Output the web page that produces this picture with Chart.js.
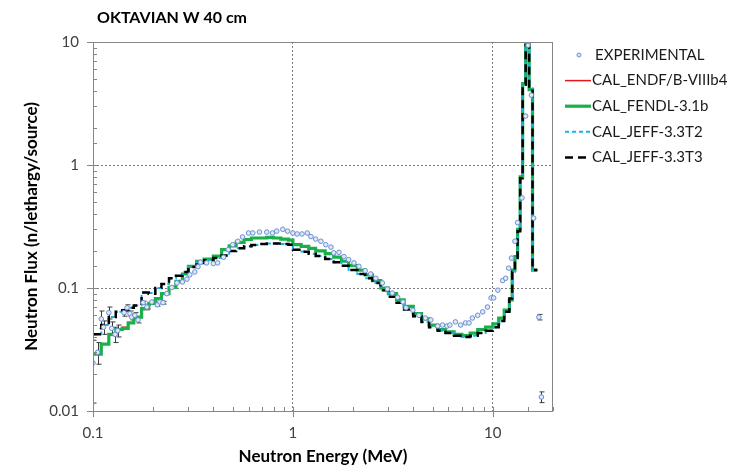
<!DOCTYPE html>
<html>
<head>
<meta charset="utf-8">
<title>OKTAVIAN W 40 cm</title>
<script src="https://cdn.jsdelivr.net/npm/chart.js@4.4.1/dist/chart.umd.min.js"></script>
<style>
    html, body { margin: 0; padding: 0; background: #fff; }
    #wrap { width: 730px; height: 467px; position: relative; }
</style>
</head>
<body>
<div id="wrap"><canvas id="fluxChart" width="730" height="467"></canvas></div>
<script>
// ========================================
// DATA
// ========================================

const chartTitle = 'OKTAVIAN W 40 cm';

// calculated spectra: group edges (MeV) and one flux value per group
const groupEdges = [
    0.1, 0.11, 0.12, 0.13, 0.14, 0.15, 0.16, 0.175, 0.19, 0.205,
    0.22, 0.24, 0.26, 0.28, 0.3, 0.33, 0.36, 0.4, 0.44, 0.48,
    0.52, 0.57, 0.62, 0.68, 0.74, 0.8, 0.87, 0.95, 1.0, 1.1,
    1.2, 1.3, 1.45, 1.6, 1.75, 1.9, 2.1, 2.3, 2.5, 2.75,
    3.0, 3.3, 3.6, 4.0, 4.4, 4.8, 5.3, 5.8, 6.4, 7.0,
    7.7, 8.4, 9.2, 10.0, 10.7, 11.4, 12.1, 12.5, 12.9, 13.3,
    13.7, 14.1, 14.6, 15.2, 15.8, 16.7
];

const endfFlux = [
    0.029, 0.035, 0.042, 0.046, 0.048, 0.052, 0.058, 0.067, 0.075, 0.082,
    0.090, 0.101, 0.113, 0.130, 0.150, 0.164, 0.172, 0.182, 0.204, 0.220,
    0.235, 0.247, 0.254, 0.255, 0.257, 0.255, 0.250, 0.244, 0.225, 0.218,
    0.210, 0.200, 0.190, 0.178, 0.165, 0.152, 0.140, 0.128, 0.115, 0.100,
    0.090, 0.080, 0.071, 0.062, 0.056, 0.050, 0.046, 0.044, 0.042, 0.041,
    0.043, 0.046, 0.048, 0.051, 0.057, 0.066, 0.080, 0.140, 0.175, 0.300,
    0.800, 4.60, 9.60, 4.10, 0.140
];

const fendlFlux = [
    0.029, 0.035, 0.042, 0.046, 0.047, 0.052, 0.058, 0.068, 0.075, 0.082,
    0.090, 0.101, 0.113, 0.130, 0.150, 0.165, 0.172, 0.182, 0.205, 0.220,
    0.235, 0.248, 0.255, 0.255, 0.258, 0.255, 0.250, 0.245, 0.225, 0.218,
    0.210, 0.200, 0.190, 0.178, 0.165, 0.152, 0.140, 0.128, 0.115, 0.100,
    0.090, 0.080, 0.071, 0.062, 0.056, 0.050, 0.046, 0.044, 0.042, 0.041,
    0.043, 0.046, 0.048, 0.051, 0.057, 0.066, 0.080, 0.140, 0.180, 0.300,
    0.800, 4.60, 9.60, 4.10, 0.140
];

const jeffT2Flux = [
    0.042, 0.050, 0.058, 0.064, 0.066, 0.069, 0.072, 0.092, 0.091, 0.100,
    0.108, 0.120, 0.126, 0.135, 0.148, 0.160, 0.168, 0.175, 0.183, 0.200,
    0.210, 0.218, 0.224, 0.228, 0.230, 0.230, 0.228, 0.225, 0.205, 0.198,
    0.190, 0.182, 0.172, 0.162, 0.152, 0.140, 0.130, 0.120, 0.110, 0.096,
    0.085, 0.076, 0.067, 0.059, 0.053, 0.048, 0.045, 0.043, 0.041, 0.040,
    0.041, 0.043, 0.045, 0.048, 0.054, 0.064, 0.082, 0.135, 0.175, 0.290,
    0.780, 4.50, 9.40, 4.20, 0.140
];

const jeffT3Flux = [
    0.042, 0.050, 0.058, 0.064, 0.066, 0.069, 0.072, 0.092, 0.090, 0.100,
    0.108, 0.120, 0.126, 0.135, 0.148, 0.160, 0.168, 0.175, 0.184, 0.200,
    0.210, 0.219, 0.224, 0.228, 0.230, 0.230, 0.228, 0.225, 0.205, 0.197,
    0.190, 0.182, 0.172, 0.162, 0.152, 0.140, 0.130, 0.120, 0.110, 0.096,
    0.085, 0.076, 0.067, 0.059, 0.053, 0.048, 0.045, 0.043, 0.041, 0.040,
    0.041, 0.043, 0.045, 0.048, 0.054, 0.064, 0.082, 0.135, 0.175, 0.290,
    0.780, 4.50, 9.40, 4.20, 0.140
];

// experiment: energy (MeV), flux, absolute uncertainty
const expEnergy = [
    0.100, 0.1055, 0.110, 0.113, 0.120, 0.124, 0.129, 0.133, 0.143, 0.148,
    0.153, 0.156, 0.162, 0.168, 0.178, 0.186, 0.197, 0.210, 0.216, 0.224,
    0.234, 0.248, 0.263, 0.280, 0.295, 0.305, 0.323, 0.335, 0.345, 0.370,
    0.400, 0.420, 0.450, 0.475, 0.500, 0.530, 0.560, 0.600, 0.630, 0.680,
    0.740, 0.790, 0.830, 0.890, 0.940, 1.00, 1.05, 1.11, 1.18, 1.23,
    1.30, 1.38, 1.46, 1.55, 1.60, 1.70, 1.80, 1.90, 2.02, 2.14,
    2.30, 2.45, 2.60, 2.80, 2.97, 3.14, 3.34, 3.55, 3.68, 3.98,
    4.27, 4.60, 4.90, 5.30, 5.60, 5.90, 6.10, 6.50, 6.90, 7.30,
    7.60, 7.90, 8.40, 8.90, 9.40, 9.80, 10.1, 10.6, 11.2, 11.6,
    12.0, 12.4, 12.9, 13.3, 14.0, 14.6, 15.0, 15.6, 16.0, 17.0,
    17.5
];

const expFlux = [
    0.0246, 0.030, 0.056, 0.048, 0.063, 0.047, 0.042, 0.045, 0.063, 0.069,
    0.062, 0.058, 0.060, 0.055, 0.076, 0.070, 0.077, 0.073, 0.077, 0.076,
    0.090, 0.101, 0.110, 0.112, 0.118, 0.128, 0.135, 0.149, 0.162, 0.160,
    0.158, 0.160, 0.178, 0.205, 0.225, 0.240, 0.260, 0.280, 0.280, 0.285,
    0.285, 0.280, 0.290, 0.300, 0.290, 0.280, 0.275, 0.275, 0.280, 0.262,
    0.250, 0.240, 0.225, 0.215, 0.193, 0.195, 0.180, 0.170, 0.160, 0.150,
    0.138, 0.130, 0.120, 0.110, 0.098, 0.091, 0.084, 0.077, 0.069, 0.066,
    0.060, 0.057, 0.055, 0.049, 0.050, 0.049, 0.050, 0.053, 0.050, 0.052,
    0.052, 0.057, 0.060, 0.064, 0.070, 0.083, 0.083, 0.096, 0.115, 0.120,
    0.145, 0.175, 0.240, 0.340, 0.540, 2.50, 9.40, 3.70, 0.370, 0.058,
    0.013
];

const expError = [
    0.013, 0.006, 0.009, 0.006, 0.007, 0.006, 0.006, 0.005, 0.004, 0.004,
    0.003, 0.003, 0.003, 0.003, 0.002, 0.002, 0.002, 0.002, 0.002, 0.002,
    0, 0, 0, 0, 0, 0, 0, 0, 0, 0,
    0, 0, 0, 0, 0, 0, 0, 0, 0, 0,
    0, 0, 0, 0, 0, 0, 0, 0, 0, 0,
    0, 0, 0, 0, 0, 0, 0, 0, 0, 0,
    0, 0, 0, 0, 0, 0, 0, 0, 0, 0,
    0, 0, 0, 0, 0, 0, 0, 0, 0, 0,
    0, 0, 0, 0, 0, 0, 0, 0, 0, 0,
    0, 0, 0, 0, 0, 0, 0, 0, 0, 0.003,
    0.0013
];

const xTickLabels = ['0.1', '1', '10'];
const yTickLabels = ['0.01', '0.1', '1', '10'];

// ========================================
// HELPERS
// ========================================

function stepData(edges, values) {
    const pts = values.map((v, i) => ({ x: edges[i], y: v }));
    pts.push({ x: edges[edges.length - 1], y: values[values.length - 1] });
    return pts;
}

function findLabel(labels, value) {
    return labels.find(l => Math.abs(Number(l) - value) < Number(l) * 1e-6);
}

const FONT = 'Lato, "Liberation Sans", sans-serif';
const AXIS_GREY = '#868686';
const TEXT_GREY = '#404040';

// ========================================
// OVERLAY PLUGIN (box, ticks, error bars, title, legend)
// ========================================

const overlayPlugin = {
    id: 'overlay',
    beforeDatasetsDraw(chart) {
        const ctx = chart.ctx;
        const xs = chart.scales.x, ys = chart.scales.y;
        const a = chart.chartArea;
        ctx.save();
        ctx.beginPath();
        ctx.rect(a.left, a.top, a.right - a.left, a.bottom - a.top);
        ctx.clip();
        ctx.strokeStyle = '#3a3a3a';
        ctx.lineWidth = 1;
        ctx.beginPath();
        expEnergy.forEach((e, i) => {
            const err = expError[i];
            if (!err) return;
            const px = Math.round(xs.getPixelForValue(e)) + 0.5;
            const lo = Math.max(expFlux[i] - err, 0.0001);
            const y1 = ys.getPixelForValue(expFlux[i] + err);
            const y2 = ys.getPixelForValue(lo);
            ctx.moveTo(px, y1); ctx.lineTo(px, y2);
            ctx.moveTo(px - 2, y1); ctx.lineTo(px + 3, y1);
            ctx.moveTo(px - 2, y2); ctx.lineTo(px + 3, y2);
        });
        ctx.stroke();
        ctx.restore();
    },
    afterDraw(chart) {
        const ctx = chart.ctx;
        const xs = chart.scales.x, ys = chart.scales.y;
        const a = chart.chartArea;

        ctx.save();
        // plot box
        ctx.strokeStyle = AXIS_GREY;
        ctx.lineWidth = 1;
        ctx.strokeRect(a.left + 0.5, a.top + 0.5, a.right - a.left - 1, a.bottom - a.top);

        // tick marks: minor inside, major crossing the axis
        ctx.beginPath();
        xs.ticks.forEach(t => {
            const px = Math.round(xs.getPixelForValue(t.value)) + 0.5;
            const major = findLabel(xTickLabels, t.value);
            ctx.moveTo(px, a.bottom - 4);
            ctx.lineTo(px, a.bottom + (major ? 6 : 0));
        });
        ys.ticks.forEach(t => {
            const py = Math.round(ys.getPixelForValue(t.value)) + 0.5;
            const major = findLabel(yTickLabels, t.value);
            ctx.moveTo(a.left + 4, py);
            ctx.lineTo(a.left - (major ? 6 : 0), py);
        });
        ctx.stroke();

        // title
        ctx.fillStyle = '#000';
        ctx.font = 'bold 16px ' + FONT;
        ctx.textAlign = 'left';
        ctx.textBaseline = 'middle';
        ctx.fillText(chartTitle, 97, 18);

        // legend
        ctx.font = '15px ' + FONT;
        chart.data.datasets.forEach((ds, i) => {
            const y = 55 + i * 25.6;
            if (ds.showLine === false) {
                ctx.beginPath();
                ctx.arc(579, y, 2, 0, Math.PI * 2);
                ctx.fillStyle = ds.backgroundColor;
                ctx.fill();
                ctx.strokeStyle = ds.borderColor;
                ctx.lineWidth = 1;
                ctx.stroke();
            } else {
                ctx.beginPath();
                ctx.setLineDash(ds.borderDash || []);
                ctx.strokeStyle = ds.borderColor;
                ctx.lineWidth = ds.borderWidth;
                ctx.moveTo(565, y);
                ctx.lineTo(591, y);
                ctx.stroke();
                ctx.setLineDash([]);
            }
            ctx.fillStyle = '#1a1a1a';
            ctx.fillText(ds.label, ds.showLine === false ? 595 : 592, y);
        });
        ctx.restore();
    }
};

// ========================================
// CHART
// ========================================

function gridColor(labels, scaleMin, scaleMax) {
    return c => {
        const v = c.tick && c.tick.value;
        if (!findLabel(labels, v)) return 'rgba(0,0,0,0)';
        if (Math.abs(v - scaleMin) < 1e-9 || Math.abs(v - scaleMax) < 1e-9) return 'rgba(0,0,0,0)';
        return '#7a7a7a';
    };
}

const ctx = document.getElementById('fluxChart').getContext('2d');

new Chart(ctx, {
    type: 'line',
    data: {
        datasets: [
            {
                label: 'EXPERIMENTAL',
                data: expEnergy.map((e, i) => ({ x: e, y: expFlux[i] })),
                showLine: false,
                pointRadius: 2.3,
                pointBorderWidth: 1,
                borderColor: '#6a8fd0',
                backgroundColor: '#dfe8f6',
                order: 0
            },
            {
                label: 'CAL_ENDF/B-VIIIb4',
                data: stepData(groupEdges, endfFlux),
                stepped: true,
                borderColor: '#e8141b',
                borderWidth: 1.5,
                pointRadius: 0,
                order: 4
            },
            {
                label: 'CAL_FENDL-3.1b',
                data: stepData(groupEdges, fendlFlux),
                stepped: true,
                borderColor: '#19b04a',
                borderWidth: 3.2,
                pointRadius: 0,
                order: 3
            },
            {
                label: 'CAL_JEFF-3.3T2',
                data: stepData(groupEdges, jeffT2Flux),
                stepped: true,
                borderColor: '#1ab2e8',
                borderWidth: 2,
                borderDash: [4, 3],
                pointRadius: 0,
                order: 2
            },
            {
                label: 'CAL_JEFF-3.3T3',
                data: stepData(groupEdges, jeffT3Flux),
                stepped: true,
                borderColor: '#000000',
                borderWidth: 2.5,
                borderDash: [8, 5],
                pointRadius: 0,
                order: 1
            }
        ]
    },
    options: {
        responsive: false,
        animation: false,
        layout: { padding: { left: 0, right: 177, top: 42, bottom: 0 } },
        plugins: {
            legend: { display: false },
            title: { display: false },
            tooltip: { enabled: false }
        },
        scales: {
            x: {
                type: 'logarithmic',
                min: 0.1,
                max: 20,
                afterFit: s => { s.height = 56; },
                grid: { drawTicks: false, color: gridColor(xTickLabels, 0.1, 20), lineWidth: 1 },
                border: { display: false, dash: [2, 2] },
                ticks: {
                    autoSkip: false,
                    maxRotation: 0,
                    padding: 13,
                    color: TEXT_GREY,
                    font: { family: FONT, size: 15 },
                    callback: v => findLabel(xTickLabels, v) || ''
                },
                title: {
                    display: true,
                    text: 'Neutron Energy (MeV)',
                    color: '#000',
                    font: { family: FONT, size: 17, weight: 'bold' },
                    padding: { top: 0, bottom: 0 }
                }
            },
            y: {
                type: 'logarithmic',
                min: 0.01,
                max: 10,
                afterFit: s => { s.width = 93; },
                grid: { drawTicks: false, color: gridColor(yTickLabels, 0.01, 10), lineWidth: 1 },
                border: { display: false, dash: [2, 2] },
                ticks: {
                    autoSkip: false,
                    padding: 14,
                    color: TEXT_GREY,
                    font: { family: FONT, size: 15 },
                    callback: v => findLabel(yTickLabels, v) || ''
                },
                title: {
                    display: true,
                    text: 'Neutron Flux (n/lethargy/source)',
                    color: '#000',
                    font: { family: FONT, size: 17, weight: 'bold' },
                    padding: { top: 21, bottom: 0 }
                }
            }
        }
    },
    plugins: [overlayPlugin]
});
</script>
</body>
</html>
